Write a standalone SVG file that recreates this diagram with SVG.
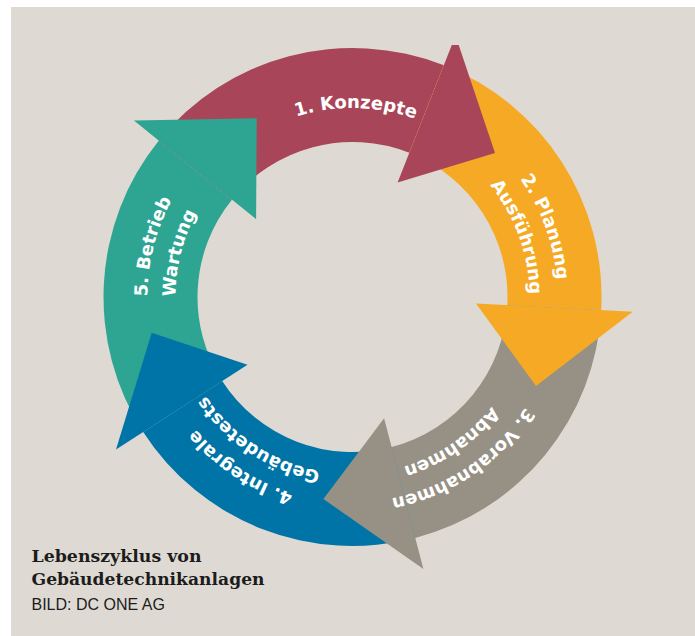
<svg xmlns="http://www.w3.org/2000/svg" xmlns:xlink="http://www.w3.org/1999/xlink" width="695" height="636" viewBox="0 0 695 636">
  <defs>
    <style>
      .lbl { font-family: "DejaVu Sans", "Liberation Sans", sans-serif; font-weight: bold; font-size: 18px; fill: #ffffff; }
      .cap { font-family: "DejaVu Serif", "Liberation Serif", serif; font-weight: bold; font-size: 17px; fill: #1c1c1c; }
      .src { font-family: "Liberation Sans", Arial, sans-serif; font-size: 16px; fill: #1c1c1c; }
      .red { fill: #a94559; }
      .orange { fill: #f5a924; }
      .gray { fill: #969184; }
      .blue { fill: #0074a6; }
      .teal { fill: #2ea592; }
    </style>
    <!-- label baselines: arcs around the ring centre (352.5,297), centred at the top -->
    <path id="arc189" d="M218.9,163.4 A189 189 0 0 1 486.1,163.4"/>
    <path id="arc205" d="M207.5,152.0 A205 205 0 0 1 497.5,152.0"/>
    <path id="arc177" d="M227.3,171.8 A177 177 0 0 1 477.7,171.8"/>
  </defs>

  <rect width="695" height="636" fill="#ffffff"/>
  <rect x="11" y="7" width="684" height="629" fill="#dedad3"/>

  <!-- ring bodies first, so every arrowhead sits on top of the following segment -->
  <g id="bodies">
    <path id="body-konzepte" class="red" d="M158.7,140.7 A249 249 0 0 1 443.8,65.3 L409.3,152.8 A155 155 0 0 0 231.9,199.7 Z"/>
    <path id="body-planung" class="orange" d="M443.8,65.3 A249 249 0 0 1 601.2,310.0 L507.3,305.1 A155 155 0 0 0 409.3,152.8 Z"/>
    <path id="body-abnahmen" class="gray" d="M601.2,310.0 A249 249 0 0 1 415.3,538.0 L391.6,447.0 A155 155 0 0 0 507.3,305.1 Z"/>
    <path id="body-tests" class="blue" d="M415.3,538.0 A249 249 0 0 1 143.2,431.9 L222.2,381.0 A155 155 0 0 0 391.6,447.0 Z"/>
    <path id="body-betrieb" class="teal" d="M143.2,431.9 A249 249 0 0 1 158.7,140.7 L231.9,199.7 A155 155 0 0 0 222.2,381.0 Z"/>
  </g>

  <g id="heads">
    <polygon id="head-konzepte" class="red" points="397.6,182.6 451.8,45 458.7,45 495.0,153.0"/>
    <polygon id="head-planung" class="orange" points="476.0,303.5 632.7,311.7 536.0,386.1"/>
    <polygon id="head-abnahmen" class="gray" points="384.1,418.3 423.4,569.1 323.4,499.0"/>
    <polygon id="head-tests" class="blue" points="247.5,364.7 116.0,449.4 151.7,332.8"/>
    <polygon id="head-betrieb" class="teal" points="256.1,219.2 133.9,120.6 256.7,118.3"/>
  </g>

  <g id="step1">
    <text class="lbl" transform="rotate(1 352.5 297)"><textPath xlink:href="#arc189" href="#arc189" startOffset="50%" text-anchor="middle">1. Konzepte</textPath></text>
  </g>
  <g id="step2">
    <text class="lbl" transform="rotate(70 352.5 297)"><textPath xlink:href="#arc205" href="#arc205" startOffset="50%" text-anchor="middle">2. Planung</textPath></text>
    <text class="lbl" transform="rotate(70 352.5 297)"><textPath xlink:href="#arc177" href="#arc177" startOffset="50%" text-anchor="middle">Ausführung</textPath></text>
  </g>
  <g id="step3">
    <text class="lbl" transform="rotate(145.8 352.5 297)"><textPath xlink:href="#arc205" href="#arc205" startOffset="50%" text-anchor="middle">3. Vorabnahmen</textPath></text>
    <text class="lbl" transform="rotate(145.8 352.5 297)"><textPath xlink:href="#arc177" href="#arc177" startOffset="50%" text-anchor="middle">Abnahmen</textPath></text>
  </g>
  <g id="step4">
    <text class="lbl" transform="rotate(213.3 352.5 297)"><textPath xlink:href="#arc205" href="#arc205" startOffset="50%" text-anchor="middle">4. Integrale</textPath></text>
    <text class="lbl" transform="rotate(213.3 352.5 297)"><textPath xlink:href="#arc177" href="#arc177" startOffset="50%" text-anchor="middle">Gebäudetests</textPath></text>
  </g>
  <g id="step5">
    <text class="lbl" transform="rotate(284.2 352.5 297)"><textPath xlink:href="#arc205" href="#arc205" startOffset="50%" text-anchor="middle">5. Betrieb</textPath></text>
    <text class="lbl" transform="rotate(284.2 352.5 297)"><textPath xlink:href="#arc177" href="#arc177" startOffset="50%" text-anchor="middle">Wartung</textPath></text>
  </g>

  <g id="caption">
    <text class="cap" x="31.5" y="561.5" textLength="170" lengthAdjust="spacingAndGlyphs">Lebenszyklus von</text>
    <text class="cap" x="31.5" y="585" textLength="233" lengthAdjust="spacingAndGlyphs">Gebäudetechnikanlagen</text>
    <text class="src" x="31.5" y="610">BILD: DC ONE AG</text>
  </g>
</svg>
